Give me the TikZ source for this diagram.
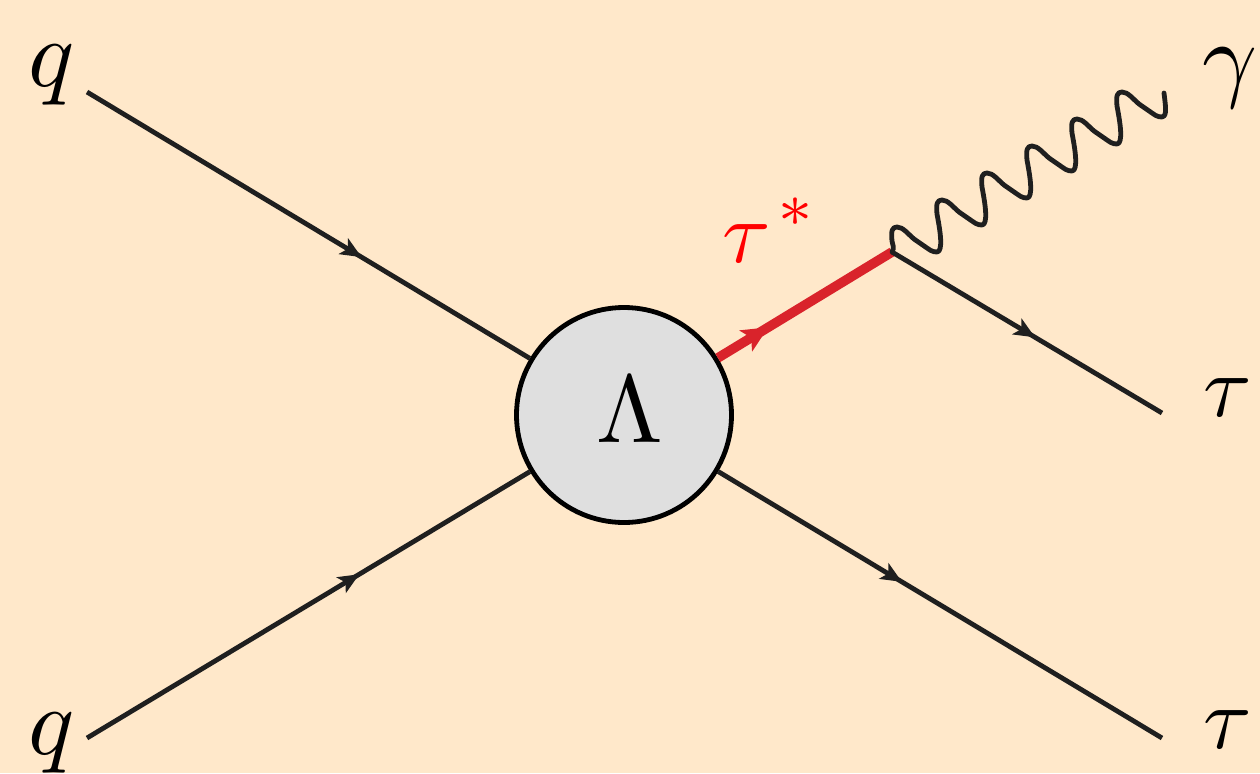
\documentclass[tikz,border=0pt]{standalone}
\usetikzlibrary{arrows.meta,decorations.markings}
\definecolor{bgc}{HTML}{FFE8CA}
\definecolor{blobc}{HTML}{DFDFDF}
\definecolor{redline}{HTML}{D9232B}
\definecolor{inkc}{HTML}{1F1F1F}
\tikzset{
  fermion/.style={draw=inkc,line width=2.4pt,postaction={decorate},
    decoration={markings,mark=at position #1 with {\arrow{Stealth[length=10.5pt,width=9pt,inset=2.5pt]}}}},
  heavy/.style={draw=redline,line width=4.8pt,postaction={decorate},
    decoration={markings,mark=at position #1 with {\arrow{Stealth[length=13pt,width=12pt,inset=3pt]}}}},
  blob/.style={circle,draw=black,fill=blobc,line width=2.4pt,minimum size=107.5pt,inner sep=0pt},
  lbl/.style={inner sep=0pt,scale=4.8,text=black},
  lbltau/.style={inner sep=0pt,scale=4.4,text=black},
  photon/.style={draw=inkc,line width=2.4pt,line cap=round,line join=round}
}
\begin{document}
\begin{tikzpicture}[x=0.5pt,y=-0.5pt]
\useasboundingbox[fill=bgc] (0,0) rectangle (1260,773);
\node[blob] (lam) at (624,415) {};
\node[lbl] (lamtxt) at (630,410) {$\Lambda$};
\coordinate (qa) at (87,92);
\coordinate (qb) at (87,738);
\coordinate (vtx) at (892,252);
\coordinate (taua) at (1162,413);
\coordinate (taub) at (1162,738);
\coordinate (gend) at (1164,93);
\path[fermion=.62] (qa) -- (lam);
\path[fermion=.615] (qb) -- (lam);
\path[fermion=.414] (lam) -- (taub);
\path[heavy=.29] (lam) -- (vtx);
\path[fermion=.53] (vtx) -- (taua);
\draw[photon] (vtx) .. controls (895,248) and (892,243) .. (892,241)
  \foreach \i in {0,...,5} {
    \pgfextra{\pgfmathsetmacro{\px}{897+45*\i}\pgfmathsetmacro{\py}{227-27*\i}}
    .. controls ({\px-6},{\py+4}) and ({\px-5},{\py}) .. ({\px},{\py})
    .. controls ({\px+6},{\py}) and ({\px+11},{\py+7}) .. ({\px+17},{\py+12})
    -- ({\px+30},{\py+21})
    .. controls ({\px+35},{\py+25}) and ({\px+40},{\py+26}) .. ({\px+42},{\py+24})
    \ifnum\i<5
    .. controls ({\px+46},{\py+18}) and ({\px+42},{\py-2}) .. ({\px+40},{\py-13})
    \else
    .. controls ({\px+45},{\py+21}) and ({\px+43},{\py+10}) .. (gend)
    \fi
  };
\node[lbl] (q1) at (52,75) {$q$};
\node[lbl] (q2) at (52,743) {$q$};
\node[lbl] (g) at (1230,78) {$\gamma$};
\node[lbltau] (t1) at (1228,398) {$\tau$};
\node[lbltau] (t2) at (1228,730) {$\tau$};
\node[lbltau,text=red] (ts) at (770,230) {$\tau^{\hspace{0.7pt}\raisebox{0.5pt}{$\scriptstyle *$}}$};
\end{tikzpicture}
\end{document}
